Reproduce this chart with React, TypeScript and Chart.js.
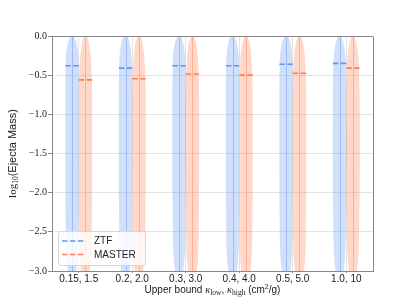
import React, { useEffect, useRef } from 'react';
import { Chart, registerables } from 'chart.js';

Chart.register(...registerables);

// ---------- data ----------
const CATEGORIES = ['0.15, 1.5', '0.2, 2.0', '0.3, 3.0', '0.4, 4.0', '0.5, 5.0', '1.0, 10'];
const ZTF_MEDIANS = [-0.38, -0.41, -0.38, -0.38, -0.36, -0.35];
const MASTER_MEDIANS = [-0.56, -0.545, -0.485, -0.5, -0.475, -0.41];
const Y_TICK_VALUES = [0, -0.5, -1, -1.5, -2, -2.5, -3];
const Y_TICK_LABELS = ['0.0', '−0.5', '−1.0', '−1.5', '−2.0', '−2.5', '−3.0'];

// violin density profile: log10 mass samples and relative half-widths
const PROFILE_Y = [0, -0.05, -0.1, -0.2, -0.3, -0.5, -0.75, -1, -1.5, -2, -2.5, -2.75, -2.9, -3];
const ZTF_WIDTHS = [
  [0.25, 0.5, 0.68, 0.86, 0.94, 0.98, 1, 1, 1, 0.99, 0.95, 0.9, 0.78, 0.62],
  [0.25, 0.5, 0.66, 0.85, 0.93, 0.98, 1, 1, 1, 0.99, 0.95, 0.9, 0.78, 0.62],
  [0.25, 0.48, 0.65, 0.84, 0.93, 0.98, 1, 1.03, 1.02, 0.99, 0.94, 0.88, 0.76, 0.6],
  [0.25, 0.5, 0.67, 0.85, 0.94, 0.98, 1, 1, 1, 0.99, 0.95, 0.9, 0.78, 0.62],
  [0.25, 0.5, 0.67, 0.86, 0.94, 0.98, 1, 1, 1, 0.99, 0.95, 0.9, 0.78, 0.62],
  [0.22, 0.45, 0.62, 0.8, 0.9, 0.96, 0.99, 1.02, 1.03, 1, 0.93, 0.86, 0.74, 0.6],
];
const MASTER_WIDTHS = [
  [0.22, 0.42, 0.55, 0.7, 0.82, 0.95, 1, 1, 1, 0.99, 0.95, 0.9, 0.8, 0.66],
  [0.22, 0.42, 0.56, 0.71, 0.83, 0.95, 1, 1, 1, 0.99, 0.95, 0.9, 0.8, 0.66],
  [0.22, 0.43, 0.57, 0.73, 0.84, 0.95, 1, 1.02, 1.02, 0.99, 0.94, 0.88, 0.78, 0.64],
  [0.22, 0.42, 0.56, 0.72, 0.83, 0.95, 1, 1, 1, 0.99, 0.95, 0.9, 0.8, 0.66],
  [0.22, 0.43, 0.57, 0.73, 0.84, 0.95, 1, 1, 1, 0.99, 0.95, 0.9, 0.8, 0.66],
  [0.2, 0.4, 0.55, 0.72, 0.84, 0.94, 0.99, 1.02, 1.03, 1, 0.93, 0.86, 0.74, 0.6],
];

const SERIES = [
  {
    label: 'ZTF',
    medians: ZTF_MEDIANS,
    widths: ZTF_WIDTHS,
    offset: -0.125,
    fill: 'rgba(100,149,237,0.3)',
    bar: 'rgba(100,149,237,0.45)',
    line: 'rgb(100,149,237)',
  },
  {
    label: 'MASTER',
    medians: MASTER_MEDIANS,
    widths: MASTER_WIDTHS,
    offset: 0.125,
    fill: 'rgba(255,127,80,0.3)',
    bar: 'rgba(255,127,80,0.45)',
    line: 'rgb(255,127,80)',
  },
];

const VIOLIN_HALF = 0.125; // fraction of category spacing
const DASH = [5.5, 2.4];
const SERIF = "'Liberation Serif', 'Times New Roman', serif";
const SANS = "'Liberation Sans', Arial, sans-serif";

type Run = { text: string; font: string; dy: number };

function drawRuns(ctx: CanvasRenderingContext2D, runs: Run[], cx: number, baseline: number) {
  let total = 0;
  runs.forEach((r) => {
    ctx.font = r.font;
    total += ctx.measureText(r.text).width;
  });
  let x = cx - total / 2;
  ctx.textAlign = 'left';
  ctx.textBaseline = 'alphabetic';
  runs.forEach((r) => {
    ctx.font = r.font;
    ctx.fillText(r.text, x, baseline + r.dy);
    x += ctx.measureText(r.text).width;
  });
}

const violinPlugin = {
  id: 'violins',
  beforeDatasetsDraw(chart: any) {
    const { ctx, chartArea, scales } = chart;
    const xs = scales.x;
    const ys = scales.y;
    const spacing = xs.getPixelForValue(1) - xs.getPixelForValue(0);
    const half = spacing * VIOLIN_HALF;
    ctx.save();
    ctx.beginPath();
    ctx.rect(chartArea.left, chartArea.top, chartArea.right - chartArea.left, chartArea.bottom - chartArea.top);
    ctx.clip();
    SERIES.forEach((s) => {
      CATEGORIES.forEach((_, ci) => {
        const cx = xs.getPixelForValue(ci) + s.offset * spacing;
        const w = s.widths[ci];
        ctx.beginPath();
        PROFILE_Y.forEach((yv, k) => {
          const px = cx + w[k] * half;
          const py = ys.getPixelForValue(yv);
          if (k === 0) ctx.moveTo(px, py);
          else ctx.lineTo(px, py);
        });
        for (let k = PROFILE_Y.length - 1; k >= 0; k--) {
          ctx.lineTo(cx - w[k] * half, ys.getPixelForValue(PROFILE_Y[k]));
        }
        ctx.closePath();
        ctx.fillStyle = s.fill;
        ctx.fill();
        // center bar
        ctx.beginPath();
        ctx.strokeStyle = s.bar;
        ctx.lineWidth = 1;
        ctx.moveTo(Math.round(cx) + 0.5, ys.getPixelForValue(PROFILE_Y[0]));
        ctx.lineTo(Math.round(cx) + 0.5, ys.getPixelForValue(PROFILE_Y[PROFILE_Y.length - 1]));
        ctx.stroke();
      });
    });
    // medians
    SERIES.forEach((s) => {
      CATEGORIES.forEach((_, ci) => {
        const cx = xs.getPixelForValue(ci) + s.offset * spacing;
        const py = ys.getPixelForValue(s.medians[ci]);
        ctx.beginPath();
        ctx.setLineDash(DASH);
        ctx.strokeStyle = s.line;
        ctx.lineWidth = 1.6;
        ctx.moveTo(cx - half, py);
        ctx.lineTo(cx + half, py);
        ctx.stroke();
        ctx.setLineDash([]);
      });
    });
    ctx.restore();
  },
  afterDraw(chart: any) {
    const { ctx, chartArea } = chart;
    ctx.save();
    // top / right frame
    ctx.strokeStyle = '#888';
    ctx.lineWidth = 1;
    ctx.beginPath();
    ctx.moveTo(chartArea.left, chartArea.top + 0.5);
    ctx.lineTo(chartArea.right + 0.5, chartArea.top + 0.5);
    ctx.lineTo(chartArea.right + 0.5, chartArea.bottom);
    ctx.stroke();

    // legend
    const bx = chartArea.left + 6;
    const by = chartArea.bottom - 40;
    const bw = 87;
    const bh = 34;
    ctx.beginPath();
    ctx.roundRect(bx + 0.5, by + 0.5, bw, bh, 3);
    ctx.fillStyle = 'rgba(255,255,255,0.8)';
    ctx.fill();
    ctx.strokeStyle = '#d6d6d6';
    ctx.stroke();
    SERIES.forEach((s, i) => {
      const ly = by + 10 + i * 13.5;
      ctx.beginPath();
      ctx.setLineDash(DASH);
      ctx.strokeStyle = s.line;
      ctx.lineWidth = 1.6;
      ctx.moveTo(bx + 4, ly);
      ctx.lineTo(bx + 27.5, ly);
      ctx.stroke();
      ctx.setLineDash([]);
      ctx.fillStyle = '#222';
      ctx.font = `10px ${SANS}`;
      ctx.textAlign = 'left';
      ctx.textBaseline = 'middle';
      ctx.fillText(s.label, bx + 36, ly + 0.5);
    });

    // axis titles
    ctx.fillStyle = '#222';
    const xRuns: Run[] = [
      { text: 'Upper bound ', font: `10px ${SANS}`, dy: 0 },
      { text: 'κ', font: `italic 10.5px ${SERIF}`, dy: 0 },
      { text: 'low', font: `7.5px ${SERIF}`, dy: 2 },
      { text: ', ', font: `10px ${SANS}`, dy: 0 },
      { text: 'κ', font: `italic 10.5px ${SERIF}`, dy: 0 },
      { text: 'high', font: `7.5px ${SERIF}`, dy: 2 },
      { text: ' (cm', font: `10px ${SANS}`, dy: 0 },
      { text: '2', font: `7px ${SANS}`, dy: -4 },
      { text: '/g)', font: `10px ${SANS}`, dy: 0 },
    ];
    drawRuns(ctx, xRuns, (chartArea.left + chartArea.right) / 2, 292.5);

    const yRuns: Run[] = [
      { text: 'log', font: `11px ${SERIF}`, dy: 0 },
      { text: '10', font: `7.5px ${SERIF}`, dy: 2 },
      { text: '(Ejecta Mass)', font: `11px ${SANS}`, dy: 0 },
    ];
    ctx.translate(12, (chartArea.top + chartArea.bottom) / 2);
    ctx.rotate(-Math.PI / 2);
    drawRuns(ctx, yRuns, 0, 4);
    ctx.restore();
  },
};

export default function App() {
  const ref = useRef<HTMLCanvasElement | null>(null);
  useEffect(() => {
    if (!ref.current) return;
    const chart = new Chart(ref.current, {
      type: 'line',
      data: {
        labels: CATEGORIES,
        datasets: SERIES.map((s) => ({
          label: s.label,
          data: s.medians,
          showLine: false,
          pointRadius: 0,
          borderColor: s.line,
          backgroundColor: s.fill,
        })),
      },
      options: {
        animation: false,
        responsive: false,
        events: [],
        layout: { padding: { top: 36, right: 42, left: 0, bottom: 0 } },
        plugins: { legend: { display: false }, tooltip: { enabled: false } },
        scales: {
          x: {
            type: 'category',
            offset: true,
            grid: { offset: false, color: '#e4e4e4', lineWidth: 1, tickLength: 2, tickColor: '#888' },
            border: { color: '#888' },
            ticks: { font: { family: SANS, size: 10 }, color: '#222', padding: 0, maxRotation: 0 },
            afterFit: (scale: any) => {
              scale.height = 34;
            },
          },
          y: {
            type: 'linear',
            min: -3,
            max: 0,
            afterBuildTicks: (scale: any) => {
              scale.ticks = Y_TICK_VALUES.map((v) => ({ value: v }));
            },
            grid: { color: '#e4e4e4', lineWidth: 1, tickLength: 4, tickColor: '#888' },
            border: { color: '#888' },
            ticks: {
              font: { family: SERIF, size: 10 },
              color: '#222',
              padding: 1,
              callback: (v: any) => {
                const i = Y_TICK_VALUES.findIndex((t) => Math.abs(t - Number(v)) < 1e-6);
                return i >= 0 ? Y_TICK_LABELS[i] : '';
              },
            },
            afterFit: (scale: any) => {
              scale.width = 52;
            },
          },
        },
      },
      plugins: [violinPlugin],
    });
    return () => chart.destroy();
  }, []);
  return (
    <div style={{ position: 'fixed', left: 0, top: 0, width: 415, height: 305, background: '#fff' }}>
      <canvas ref={ref} width={415} height={305} />
    </div>
  );
}
